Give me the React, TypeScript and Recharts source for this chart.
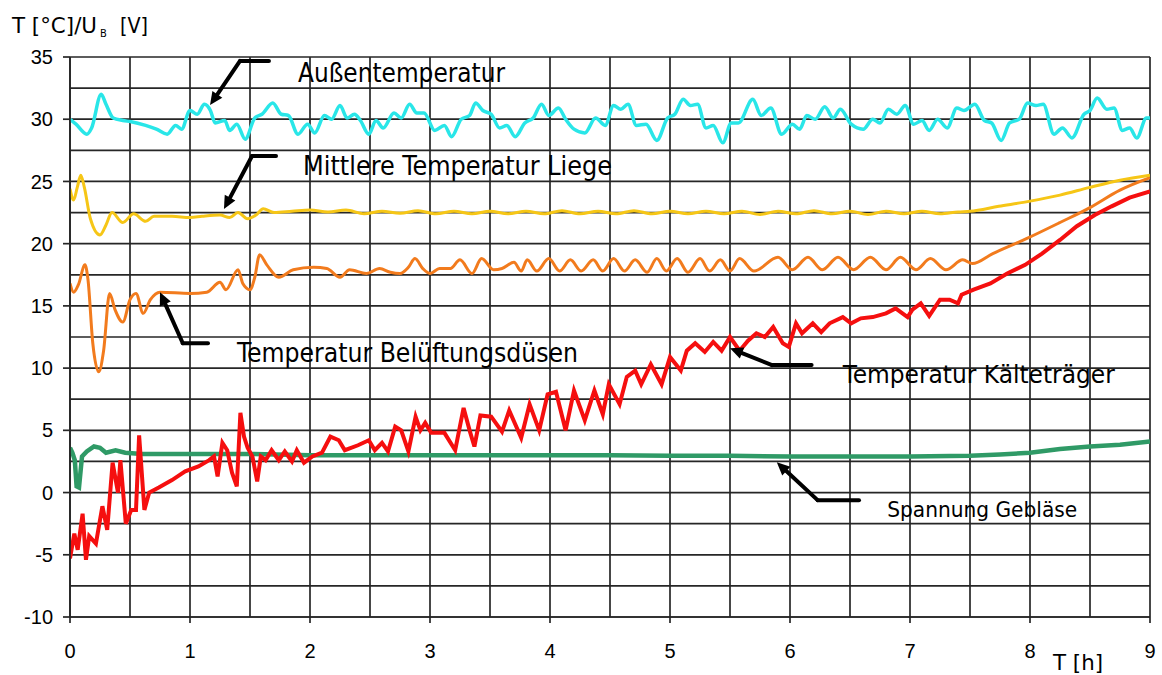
import React from 'react';
import { LineChart, Line, XAxis, YAxis, CartesianGrid, ReferenceLine, ReferenceDot } from 'recharts';

// ---------- axis / grid values ----------
const xTicks = [0, 1, 2, 3, 4, 5, 6, 7, 8, 9];
const yTicks = [-10, -5, 0, 5, 10, 15, 20, 25, 30, 35];
const gridX = [0, 0.5, 1, 1.5, 2, 2.5, 3, 3.5, 4, 4.5, 5, 5.5, 6, 6.5, 7, 7.5, 8, 8.5, 9];
const gridY = [-10, -7.5, -5, -2.5, 0, 2.5, 5, 7.5, 10, 12.5, 15, 17.5, 20, 22.5, 25, 27.5, 30, 32.5, 35];

// ---------- series [t (h), value] ----------
const aussentemperatur: [number, number][] = [
  [0, 30.0], [0.05, 29.6], [0.14, 28.8], [0.18, 29.3], [0.26, 32.0], [0.3, 31.2], [0.36, 30.1], [0.44, 29.9],
  [0.51, 29.8], [0.63, 29.5], [0.72, 29.2], [0.81, 28.8], [0.88, 29.5], [0.93, 29.2], [1.0, 30.7], [1.06, 30.4],
  [1.12, 31.2], [1.17, 30.7], [1.21, 29.7], [1.29, 29.9], [1.33, 29.1], [1.39, 29.6], [1.46, 28.4], [1.54, 30.1],
  [1.6, 30.4], [1.69, 31.3], [1.76, 30.4], [1.82, 30.3], [1.9, 28.8], [1.98, 29.6], [2.04, 28.9], [2.12, 30.3],
  [2.18, 30.0], [2.25, 31.1], [2.31, 30.1], [2.37, 30.4], [2.42, 29.9], [2.49, 28.8], [2.55, 29.9], [2.61, 29.3],
  [2.7, 30.5], [2.76, 30.1], [2.83, 31.2], [2.89, 30.5], [2.95, 30.5], [3.04, 29.1], [3.12, 29.5], [3.18, 28.6],
  [3.26, 30.0], [3.33, 30.3], [3.38, 31.3], [3.44, 30.7], [3.51, 30.4], [3.58, 29.3], [3.64, 29.5], [3.71, 28.6],
  [3.79, 29.7], [3.86, 30.1], [3.93, 31.2], [3.99, 30.3], [4.07, 30.9], [4.13, 30.0], [4.2, 29.2], [4.29, 28.9],
  [4.38, 30.1], [4.46, 29.5], [4.53, 31.1], [4.59, 30.8], [4.65, 31.2], [4.72, 29.5], [4.8, 29.6], [4.89, 28.3],
  [4.98, 30.1], [5.04, 30.4], [5.11, 31.6], [5.17, 31.1], [5.23, 31.2], [5.3, 29.3], [5.36, 29.5], [5.44, 28.1],
  [5.51, 29.7], [5.57, 29.7], [5.69, 31.6], [5.76, 30.3], [5.84, 30.9], [5.93, 28.8], [6.02, 29.6], [6.08, 29.2],
  [6.14, 30.3], [6.21, 30.0], [6.29, 31.0], [6.36, 30.1], [6.42, 30.8], [6.51, 29.6], [6.61, 29.2], [6.69, 30.0],
  [6.75, 29.7], [6.82, 30.8], [6.89, 30.4], [6.96, 31.1], [7.03, 29.6], [7.1, 29.9], [7.16, 29.1], [7.23, 30.0],
  [7.31, 29.3], [7.39, 30.9], [7.45, 30.7], [7.54, 31.2], [7.62, 29.9], [7.68, 29.7], [7.76, 28.3], [7.83, 29.7],
  [7.91, 30.0], [7.98, 31.3], [8.05, 31.1], [8.11, 31.2], [8.2, 28.8], [8.27, 29.3], [8.35, 28.5], [8.45, 30.4],
  [8.5, 30.7], [8.56, 31.7], [8.64, 30.8], [8.7, 30.9], [8.77, 29.1], [8.83, 29.3], [8.89, 28.5], [8.97, 30.1],
  [9.0, 30.1],
];

const liege: [number, number][] = [
  [0, 24.4], [0.03, 23.5], [0.06, 24.5], [0.09, 25.5], [0.12, 24.5], [0.17, 22.0], [0.25, 20.7], [0.3, 21.5],
  [0.35, 22.5], [0.44, 21.7], [0.53, 22.4], [0.63, 21.8], [0.7, 22.2], [0.85, 22.2], [1.0, 22.1], [1.1, 22.2],
  [1.25, 22.3], [1.33, 22.1], [1.4, 22.5], [1.48, 22.0], [1.55, 22.3], [1.61, 22.8], [1.7, 22.5], [1.85, 22.6],
  [2.0, 22.7], [2.15, 22.55], [2.3, 22.7], [2.45, 22.4], [2.6, 22.6], [2.75, 22.45], [2.9, 22.65], [3.05, 22.4],
  [3.2, 22.6], [3.35, 22.4], [3.5, 22.6], [3.65, 22.4], [3.8, 22.6], [3.95, 22.4], [4.1, 22.65], [4.25, 22.4],
  [4.4, 22.6], [4.55, 22.4], [4.7, 22.65], [4.85, 22.4], [5.0, 22.6], [5.15, 22.4], [5.3, 22.6], [5.45, 22.4],
  [5.6, 22.6], [5.75, 22.35], [5.9, 22.6], [6.05, 22.4], [6.2, 22.65], [6.35, 22.4], [6.5, 22.6], [6.65, 22.35],
  [6.8, 22.6], [6.95, 22.4], [7.1, 22.6], [7.25, 22.4], [7.4, 22.55], [7.5, 22.6], [7.74, 23.0], [7.99, 23.4],
  [8.25, 23.9], [8.49, 24.5], [8.75, 25.1], [9.0, 25.5],
];

const duesen: [number, number][] = [
  [0, 16.8], [0.03, 16.1], [0.07, 16.7], [0.125, 18.3], [0.15, 17.1], [0.19, 12.0], [0.24, 9.7], [0.28, 11.4],
  [0.33, 16.0], [0.375, 14.7], [0.44, 13.7], [0.5, 15.5], [0.55, 16.0], [0.61, 14.4], [0.67, 15.5], [0.75, 16.1],
  [1.0, 16.0], [1.14, 16.1], [1.25, 16.9], [1.3, 16.3], [1.4, 17.9], [1.44, 16.8], [1.5, 16.3], [1.54, 17.3],
  [1.58, 19.1], [1.64, 18.3], [1.74, 17.3], [1.86, 17.9], [2.03, 18.1], [2.14, 18.0], [2.25, 17.3], [2.33, 17.9],
  [2.47, 17.6], [2.58, 18.0], [2.67, 17.7], [2.75, 17.6], [2.82, 18.1], [2.875, 18.8], [2.94, 18.0], [3.0, 17.6],
  [3.08, 18.0], [3.17, 18.0], [3.25, 18.7], [3.35, 17.6], [3.43, 18.8], [3.53, 17.9], [3.6, 18.0], [3.7, 18.5],
  [3.76, 17.8], [3.81, 18.7], [3.89, 17.8], [3.99, 18.8], [4.08, 17.8], [4.17, 18.7], [4.26, 17.8], [4.36, 18.7],
  [4.44, 17.8], [4.53, 18.8], [4.62, 17.8], [4.71, 18.7], [4.81, 17.7], [4.89, 18.8], [4.97, 17.8], [5.06, 18.8],
  [5.15, 17.7], [5.25, 18.8], [5.33, 17.8], [5.42, 18.7], [5.5, 17.8], [5.58, 18.8], [5.7, 17.8], [5.9, 18.9],
  [6.02, 17.9], [6.15, 18.9], [6.27, 17.9], [6.4, 18.9], [6.53, 17.9], [6.67, 18.9], [6.8, 17.9], [6.92, 18.9],
  [7.05, 17.9], [7.17, 18.8], [7.3, 17.9], [7.44, 18.7], [7.52, 18.4], [7.69, 19.2], [7.97, 20.4], [8.25, 21.7],
  [8.5, 22.9], [8.75, 24.3], [9.0, 25.3],
];

const kaeltetraeger: [number, number][] = [
  [0, -5.3], [0.036, -3.3], [0.064, -4.6], [0.105, -1.7], [0.133, -5.4], [0.16, -3.5], [0.216, -4.1], [0.27, -1.1],
  [0.31, -3.0], [0.355, 2.4], [0.4, 0.0], [0.42, 2.6], [0.465, -2.5], [0.51, -1.4], [0.55, -1.4], [0.576, 4.6],
  [0.62, -1.4], [0.66, 0.0], [0.74, 0.4], [0.85, 1.0], [0.96, 1.7], [1.07, 2.1], [1.16, 2.6], [1.2, 2.9],
  [1.23, 1.3], [1.27, 4.0], [1.31, 3.4], [1.35, 1.6], [1.39, 0.5], [1.42, 6.4], [1.45, 4.5], [1.48, 3.6],
  [1.52, 2.9], [1.56, 0.9], [1.59, 2.9], [1.63, 2.6], [1.68, 3.4], [1.74, 2.6], [1.79, 3.3], [1.85, 2.5],
  [1.89, 3.4], [1.95, 2.4], [2.02, 2.9], [2.1, 3.2], [2.17, 4.5], [2.24, 4.2], [2.29, 3.4], [2.4, 3.8],
  [2.49, 4.2], [2.54, 3.4], [2.6, 4.0], [2.65, 3.3], [2.71, 5.3], [2.76, 5.0], [2.82, 3.3], [2.88, 6.1],
  [2.92, 5.0], [2.96, 5.6], [3.01, 4.8], [3.12, 4.8], [3.21, 3.4], [3.28, 6.8], [3.33, 5.0], [3.37, 3.7],
  [3.42, 6.2], [3.51, 6.1], [3.6, 4.9], [3.66, 6.6], [3.76, 4.4], [3.83, 7.1], [3.91, 5.0], [3.98, 7.9],
  [4.05, 8.1], [4.13, 5.0], [4.2, 8.2], [4.29, 5.8], [4.37, 8.2], [4.44, 6.3], [4.49, 8.7], [4.58, 7.1],
  [4.64, 9.3], [4.71, 9.8], [4.76, 8.7], [4.84, 10.3], [4.93, 8.7], [5.0, 10.9], [5.09, 9.8], [5.14, 11.4],
  [5.21, 12.0], [5.29, 11.3], [5.36, 12.1], [5.43, 11.4], [5.5, 12.5], [5.58, 11.4], [5.65, 12.2], [5.72, 12.8],
  [5.79, 12.5], [5.86, 13.3], [5.94, 12.0], [5.99, 11.7], [6.05, 13.6], [6.1, 12.8], [6.19, 13.6], [6.26, 12.9],
  [6.33, 13.6], [6.44, 14.1], [6.51, 13.6], [6.59, 14.0], [6.69, 14.1], [6.8, 14.4], [6.88, 14.8], [6.98, 14.1],
  [7.02, 14.7], [7.09, 15.2], [7.16, 14.2], [7.25, 15.5], [7.33, 15.5], [7.4, 15.2], [7.43, 15.9], [7.53, 16.3],
  [7.67, 16.8], [7.81, 17.6], [7.96, 18.3], [8.1, 19.2], [8.25, 20.3], [8.39, 21.4], [8.54, 22.3], [8.68, 23.0],
  [8.83, 23.7], [9.0, 24.2],
];

const spannung: [number, number][] = [
  [0, 3.6], [0.02, 3.2], [0.04, 2.6], [0.055, 0.5], [0.075, 0.4], [0.1, 2.9], [0.14, 3.3], [0.2, 3.7],
  [0.25, 3.6], [0.3, 3.2], [0.38, 3.4], [0.46, 3.2], [0.6, 3.1], [1.0, 3.1], [1.5, 3.1], [2.0, 3.0],
  [2.5, 3.0], [3.0, 3.0], [3.5, 3.0], [4.0, 3.0], [4.5, 3.0], [5.0, 2.95], [5.5, 2.95], [6.0, 2.9],
  [6.5, 2.9], [7.0, 2.9], [7.5, 2.95], [7.75, 3.05], [8.0, 3.2], [8.25, 3.5], [8.5, 3.7], [8.75, 3.85],
  [9.0, 4.1],
];

// ---------- annotations (data coordinates) ----------
// [cornerT, cornerV, tipT, tipV, barEndT]
const arrows: [number, number, number, number, number][] = [
  [1.417, 34.68, 1.167, 31.14, 1.658],
  [1.517, 27.04, 1.283, 22.78, 1.717],
  [0.94, 12.0, 0.75, 16.1, 1.15],
  [5.85, 10.24, 5.5, 11.6, 6.18],
  [6.23, -0.61, 5.89, 2.44, 6.575],
];
const labelTexts = ['Außentemperatur', 'Mittlere Temperatur Liege', 'Temperatur Belüftungsdüsen', 'Temperatur Kälteträger', 'Spannung Gebläse'];
const labelT = [1.9, 1.942, 1.392, 6.44, 6.81];
const labelV = [33.0, 25.5, 10.48, 8.8, -2.0];
const labelWidth = [207, 309, 341, 272, 190];
const labelSize = [26, 26, 26, 25, 21];

const toData = (arr: [number, number][]) => arr.map(([t, v]) => ({ t, v }));

const arrowShape = (p: any) => {
  const { x1, y1, x2, y2 } = p;
  const ang = Math.atan2(y2 - y1, x2 - x1);
  const L = 13;
  const W = 6;
  const bx = x2 - L * Math.cos(ang);
  const by = y2 - L * Math.sin(ang);
  const px = -Math.sin(ang) * W;
  const py = Math.cos(ang) * W;
  return (
    <g>
      <line x1={x1} y1={y1} x2={bx} y2={by} stroke="#000" strokeWidth={4} strokeLinecap="round" />
      <polygon points={`${x2},${y2} ${bx + px},${by + py} ${bx - px},${by - py}`} fill="#000" />
    </g>
  );
};

const FONT_NUM = '"Liberation Sans", Arial, sans-serif';
const FONT_ANN = '"DejaVu Sans Condensed", "DejaVu Sans", sans-serif';
const GRID = '#262626';

export default function App() {
  return (
    <div style={{ position: 'absolute', left: 0, top: 0, width: 1162, height: 675, background: '#fff' }}>
      <LineChart width={1162} height={675} margin={{ top: 57, right: 12, bottom: 18, left: 8 }}>
        <CartesianGrid
          stroke={GRID}
          strokeWidth={1.7}
          horizontalValues={gridY}
          verticalValues={gridX}
        />
        <XAxis
          type="number"
          dataKey="t"
          domain={[0, 9]}
          ticks={xTicks}
          height={40}
          allowDataOverflow
          axisLine={{ stroke: GRID, strokeWidth: 1.7 }}
          tickLine={{ stroke: GRID, strokeWidth: 1.7 }}
          tickSize={6}
          tickMargin={21}
          tick={{ fill: '#000', fontSize: 20, fontFamily: FONT_NUM }}
        />
        <YAxis
          type="number"
          domain={[-10, 35]}
          ticks={yTicks}
          width={62}
          allowDataOverflow
          axisLine={{ stroke: GRID, strokeWidth: 1.7 }}
          tickLine={{ stroke: GRID, strokeWidth: 1.7 }}
          tickSize={7}
          tickMargin={10}
          tick={{ fill: '#000', fontSize: 20, fontFamily: FONT_NUM }}
        />
        <Line data={toData(spannung)} dataKey="v" type="linear" stroke="#2f9a66" strokeWidth={4.5} dot={false} isAnimationActive={false} />
        <Line data={toData(kaeltetraeger)} dataKey="v" type="linear" stroke="#f50f0f" strokeWidth={4} dot={false} isAnimationActive={false} />
        <Line data={toData(duesen)} dataKey="v" type="monotone" stroke="#f27b1d" strokeWidth={3} dot={false} isAnimationActive={false} />
        <Line data={toData(liege)} dataKey="v" type="monotone" stroke="#f6c616" strokeWidth={3} dot={false} isAnimationActive={false} />
        <Line data={toData(aussentemperatur)} dataKey="v" type="monotone" stroke="#29e6e8" strokeWidth={3.5} dot={false} isAnimationActive={false} />
        {arrows.map((a, i) => (
          <ReferenceLine
            key={'bar' + i}
            segment={[{ x: a[0], y: a[1] }, { x: a[4], y: a[1] }]}
            stroke="#000"
            strokeWidth={4}
            strokeLinecap="round"
            ifOverflow="visible"
          />
        ))}
        {arrows.map((a, i) => (
          <ReferenceLine
            key={'arr' + i}
            segment={[{ x: a[0], y: a[1] }, { x: a[2], y: a[3] }]}
            shape={arrowShape}
            ifOverflow="visible"
          />
        ))}
        {labelTexts.map((txt, i) => (
          <ReferenceDot
            key={'lab' + i}
            x={labelT[i]}
            y={labelV[i]}
            r={0}
            ifOverflow="visible"
            shape={(p: any) => (
              <text
                x={p.cx}
                y={p.cy}
                fontFamily={FONT_ANN}
                fontSize={labelSize[i]}
                fill="#000"
                textLength={labelWidth[i]}
                lengthAdjust="spacingAndGlyphs"
              >
                {txt}
              </text>
            )}
          />
        ))}
      </LineChart>
      <svg width={1162} height={675} style={{ position: 'absolute', left: 0, top: 0, pointerEvents: 'none' }}>
        <text x={12} y={33} fontFamily={FONT_ANN} fontSize={22} fill="#000" textLength={85} lengthAdjust="spacingAndGlyphs">T [°C]/U</text>
        <text x={100} y={37} fontFamily={FONT_ANN} fontSize={11} fill="#000">B</text>
        <text x={120} y={33} fontFamily={FONT_ANN} fontSize={22} fill="#000" textLength={28} lengthAdjust="spacingAndGlyphs">[V]</text>
        <text x={1053} y={670} fontFamily={FONT_ANN} fontSize={22} fill="#000" textLength={50} lengthAdjust="spacingAndGlyphs">T [h]</text>
      </svg>
    </div>
  );
}
